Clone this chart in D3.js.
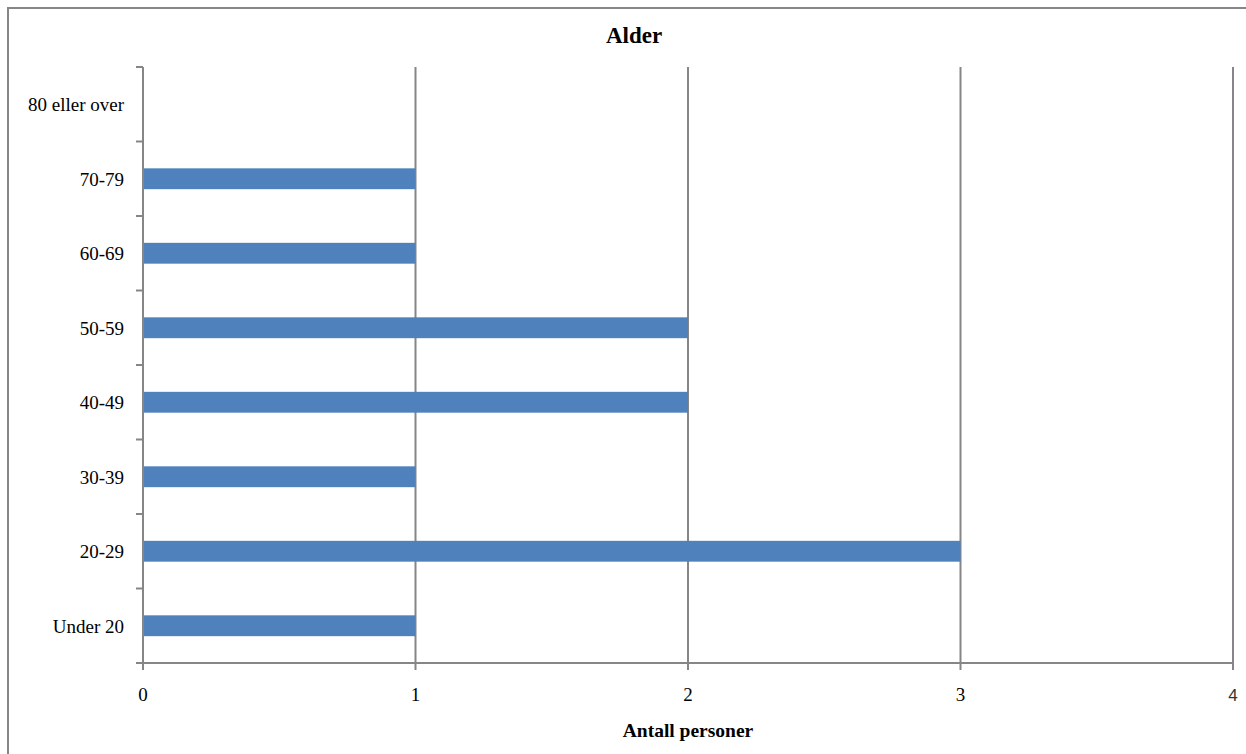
<!DOCTYPE html>
<html><head><meta charset="utf-8">
<script src="https://cdn.jsdelivr.net/npm/d3@7"></script>
<style>body{margin:0;background:#fff}svg{display:block}</style>
</head><body>
<script>
const categories = ["Under 20","20-29","30-39","40-49","50-59","60-69","70-79","80 eller over"];
const values = [1,3,1,2,2,1,1,0];
const xTicks = [0,1,2,3,4];
const title = "Alder";
const xTitle = "Antall personer";

const W = 1246, H = 754;
const svg = d3.select("body").append("svg").attr("width", W).attr("height", H);
const grey = "#868686";
const serif = "'Liberation Serif','Times New Roman',serif";

svg.append("rect").attr("x", 8).attr("y", 8).attr("width", 1250).attr("height", 760)
  .attr("fill", "#fff").attr("stroke", grey).attr("stroke-width", 2);

const x = d3.scaleLinear().domain([0, 4]).range([143, 1233]);
const y = d3.scaleBand().domain(categories.slice().reverse()).range([67, 663]).padding(0);

// gridlines
svg.append("g").selectAll("line").data(xTicks.slice(1)).join("line")
  .attr("x1", d => x(d)).attr("x2", d => x(d)).attr("y1", 67).attr("y2", 670)
  .attr("stroke", grey).attr("stroke-width", 2);

// bars
const barH = y.bandwidth() * 0.28;
svg.append("g").selectAll("rect").data(categories).join("rect")
  .attr("x", x(0))
  .attr("y", d => y(d) + y.bandwidth() / 2 - barH / 2)
  .attr("width", (d, i) => x(values[i]) - x(0))
  .attr("height", barH)
  .attr("fill", "#4F81BD");

// y axis
svg.append("line").attr("x1", x(0)).attr("x2", x(0)).attr("y1", 67).attr("y2", 670)
  .attr("stroke", grey).attr("stroke-width", 2);
const yTickPos = d3.range(categories.length + 1).map(i => 67 + i * y.step());
svg.append("g").selectAll("line").data(yTickPos).join("line")
  .attr("x1", 136).attr("x2", x(0)).attr("y1", d => d).attr("y2", d => d)
  .attr("stroke", grey).attr("stroke-width", 2);
svg.append("g").selectAll("text").data(categories).join("text")
  .attr("x", 124).attr("y", d => y(d) + y.bandwidth() / 2 + 7)
  .attr("text-anchor", "end").attr("font-family", serif).attr("font-size", 19)
  .attr("fill", "#000").text(d => d);

// x axis
svg.append("line").attr("x1", 136).attr("x2", x(4)).attr("y1", 663).attr("y2", 663)
  .attr("stroke", grey).attr("stroke-width", 2);
svg.append("g").selectAll("text").data(xTicks).join("text")
  .attr("x", d => x(d)).attr("y", 701)
  .attr("text-anchor", "middle")
  .attr("font-family", d => d === 4 ? "'Liberation Sans',Arial,sans-serif" : serif)
  .attr("font-size", d => d === 4 ? 17 : 19).attr("fill", d => d === 4 ? "#333" : "#000").text(d => d);

svg.append("text").attr("x", 634).attr("y", 43).attr("text-anchor", "middle")
  .attr("font-family", serif).attr("font-weight", "bold").attr("font-size", 23).text(title);
svg.append("text").attr("x", 688).attr("y", 737).attr("text-anchor", "middle")
  .attr("font-family", serif).attr("font-weight", "bold").attr("font-size", 19.5).text(xTitle);
</script>
</body></html>
